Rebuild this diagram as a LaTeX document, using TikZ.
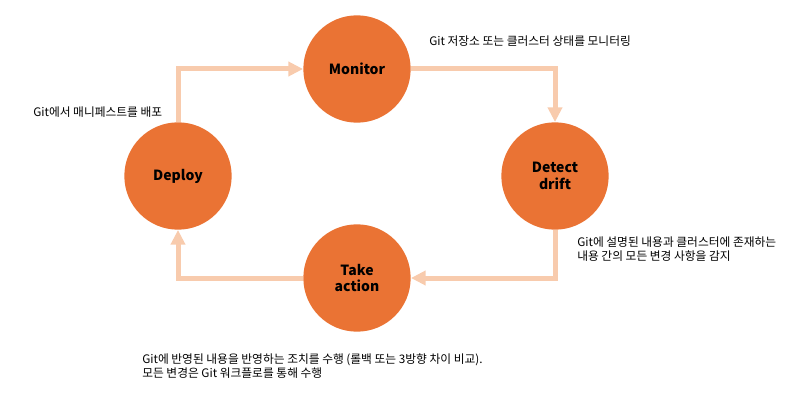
\documentclass[tikz,border=0pt]{standalone}
\usepackage{fontspec}
\setmainfont{Noto Sans CJK KR}
\usepackage{xcolor}
\usetikzlibrary{arrows.meta}
\definecolor{CycleOrange}{HTML}{EA7334}
\definecolor{CyclePeach}{HTML}{F8CBAD}
\definecolor{CycleInk}{HTML}{000000}
\tikzset{
  stage/.style={circle,fill=CycleOrange,draw=none,minimum size=80.5pt,
    inner sep=0pt,align=center,text=CycleInk,
    font=\bfseries\fontsize{10.5}{12.5}\selectfont},
  flow/.style={CyclePeach,line width=3.75pt,
    -{Triangle[length=11pt,width=10.5pt]}},
  note/.style={anchor=west,align=left,inner sep=0pt,text=CycleInk,
    font=\fontsize{8.8}{10.5}\selectfont}
}
\begin{document}
\begin{tikzpicture}[x=0.75pt,y=-0.75pt]
  \useasboundingbox (0,0) rectangle (807,410);

  \node[stage] (monitor) at (357,69) {Monitor};
  \node[stage] (detect) at (555,176) {Detect\\drift};
  \node[stage] (action) at (357,278) {Take\\action};
  \node[stage] (deploy) at (178,176) {Deploy};

  \draw[flow] (deploy.north) |- (monitor.west);
  \draw[flow] (monitor.east) -| (detect.north);
  \draw[flow] (detect.south) |- (action.east);
  \draw[flow] (action.west) -| (deploy.south);

  \node[note] (deploynote) at (33,112) {Git에서 매니페스트를 배포};
  \node[note] (monitornote) at (429,41) {Git 저장소 또는 클러스터 상태를 모니터링};
  \node[note] (detectnote) at (577,249)
    {Git에 설명된 내용과 클러스터에 존재하는\\내용 간의 모든 변경 사항을 감지};
  \node[note] (actionnote) at (142,366)
    {Git에 반영된 내용을 반영하는 조치를 수행 (롤백 또는 3방향 차이 비교).\\모든 변경은 Git 워크플로를 통해 수행};
\end{tikzpicture}
\end{document}
